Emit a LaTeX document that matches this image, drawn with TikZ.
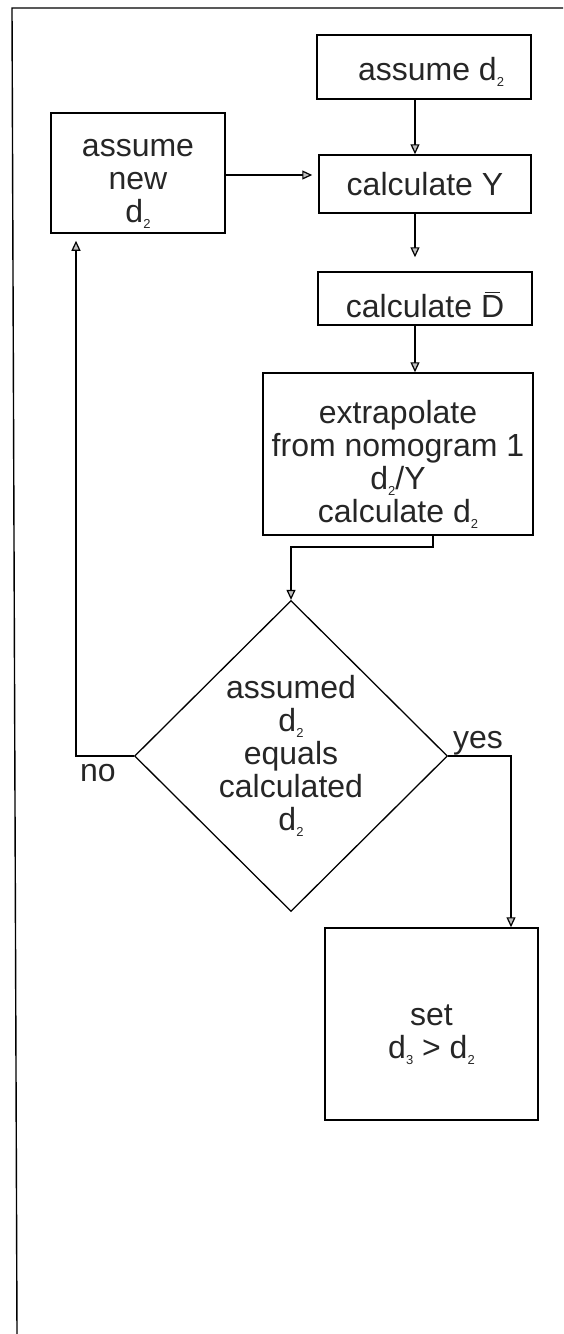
\documentclass[tikz,border=0pt]{standalone}
\usepackage{fontspec}
\setmainfont{Liberation Sans}
\usetikzlibrary{arrows.meta,shapes.geometric}
\newcommand{\lo}[1]{\raisebox{-6pt}{\fontsize{13}{13}\selectfont #1}}
\newcommand{\dn}[1]{\rule{0pt}{#1}}
\newcommand{\Dbar}{\leavevmode\hbox{\setbox0\hbox{D}\rlap{\hspace{0.15\wd0}\raisebox{\dimexpr\ht0+2pt\relax}{\rule{0.65\wd0}{1.4pt}}}D}}
\begin{document}
\begin{tikzpicture}[x=1pt,y=-1pt,
  every node/.style={font=\fontsize{32}{33}\selectfont, text=black!85},
  box/.style={draw, line width=1.5pt, align=center, inner sep=0pt},
  arr/.style={line width=1.2pt, -{Triangle[length=10pt,width=9pt,fill=gray!50]}},
  lbl/.style={inner sep=0pt}]
\useasboundingbox (0,0) rectangle (563,1334);
\draw[line width=1.4pt] (563,8) -- (12,8) -- (17,1334);

\node[box, minimum width=214pt, minimum height=64pt] (A) at (424,67) {\dn{32pt}\hspace*{14pt}assume d\lo{2}};
\node[box, minimum width=174pt, minimum height=120pt] (N) at (138,173) {\dn{39pt}assume\\new\\d\lo{2}};
\node[box, minimum width=212pt, minimum height=58pt] (Y) at (425,184) {calculate Y};
\node[box, minimum width=214pt, minimum height=53pt] (D) at (425,298.5) {\dn{38pt}calculate \Dbar};
\node[box, minimum width=270pt, minimum height=162pt] (E) at (398,454) {\dn{44pt}extrapolate\\from nomogram 1\\d\lo{2}/Y\\calculate d\lo{2}};
\node[draw, diamond, line width=1.3pt, inner sep=0pt, minimum width=313pt, minimum height=311pt, align=center] (Q) at (291,756) {assumed\\d\lo{2}\\equals\\calculated\\d\lo{2}};
\node[box, minimum width=213pt, minimum height=192pt] (S) at (431.5,1024) {\dn{42pt}set\\d\lo{3} > d\lo{2}};

\coordinate (xa) at (415,0);
\coordinate (xe) at (433,0);
\coordinate (xno) at (76,0);
\coordinate (xyes) at (511,0);
\coordinate (ye) at (0,547);
\coordinate (yn) at (0,175);

\draw[arr] (A.south -| xa) -- (Y.north -| xa);
\draw[arr, shorten >=14pt] (Y.south -| xa) -- (D.north -| xa);
\draw[arr] (D.south -| xa) -- (E.north -| xa);
\draw[arr, shorten >=6pt] (N.east |- yn) -- (Y.west |- yn);
\draw[arr] (E.south -| xe) -- (xe |- ye) -| (Q.north);
\draw[arr, shorten >=7pt] (Q.west) -| (N.south -| xno);
\draw[arr] (Q.east) -| (S.north -| xyes);

\node[lbl, anchor=base] (no) at (98,781) {no};
\node[lbl, anchor=base] (yes) at (478,748) {yes};
\end{tikzpicture}
\end{document}
